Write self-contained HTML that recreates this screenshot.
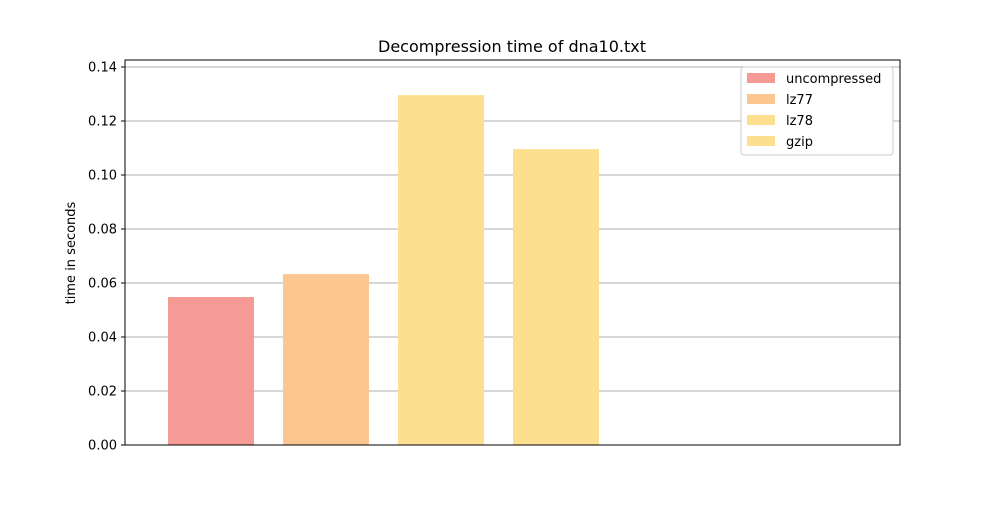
<!DOCTYPE html>
<html><head><meta charset="utf-8"><style>
body{margin:0;background:#fff;font-family:"Liberation Sans","DejaVu Sans",sans-serif}
svg text{font-family:"DejaVu Sans","Liberation Sans",sans-serif}
</style></head><body>
<svg id="chart" width="1000" height="500" xmlns="http://www.w3.org/2000/svg">
<rect width="1000" height="500" fill="#fff"/>
<text x="512" y="52" font-size="16" text-anchor="middle" fill="#000">Decompression time of dna10.txt</text>
<text transform="translate(75,253) rotate(-90)" font-size="13" text-anchor="middle">time in seconds</text>
<g id="grid"></g><g id="bars"></g><g id="ticks"></g>
<rect x="125" y="60" width="775" height="385" fill="none" stroke="#000" stroke-width="1"/>
<g id="legend"></g>
</svg>
<script>
const categories=["uncompressed","lz77","lz78","gzip"];
const values=[0.0548,0.0633,0.1296,0.1096];
const colors=["#f59a95","#fbc690","#fddf90","#fddf90"];
const yTicks=[0,0.02,0.04,0.06,0.08,0.10,0.12,0.14];
const yTickLabels=["0.00","0.02","0.04","0.06","0.08","0.10","0.12","0.14"];
const NS="http://www.w3.org/2000/svg";
const y=v=>445-v/0.02*54;
const xc=i=>211+i*115;
function mk(t,a,p){const e=document.createElementNS(NS,t);for(const k in a)e.setAttribute(k,a[k]);p.appendChild(e);return e;}
const g=document.getElementById('grid'),b=document.getElementById('bars'),tk=document.getElementById('ticks'),lg=document.getElementById('legend');
yTicks.forEach((v,i)=>{
 const l=mk('line',{x1:125,x2:900,y1:y(v),y2:y(v),stroke:'#b0b0b0','stroke-width':1},g);
 
 
 const t=mk('line',{x1:121,x2:125,y1:y(v),y2:y(v),stroke:'#000'},tk);
 
 
 const tx=mk('text',{x:117,y:y(v)+4.5,'font-size':13,'text-anchor':'end'},tk);
 tx.textContent=yTickLabels[i];
 
 
});
values.forEach((v,i)=>{
 const r=mk('rect',{x:xc(i)-43,width:86,y:y(v),height:445-y(v),fill:colors[i]},b);
 
 
});
const box=mk('rect',{x:741,y:67,width:152,height:88,fill:'#fff',stroke:'#ccc',rx:3},lg);


categories.forEach((c,i)=>{
 const yy=78+i*21;
 const s=mk('rect',{x:747,y:yy-5,width:28,height:10,fill:colors[i]},lg);
 
 
 const t=mk('text',{x:786,y:yy+5,'font-size':13},lg);
 t.textContent=c;
 
 
});
</script>
</body></html>
